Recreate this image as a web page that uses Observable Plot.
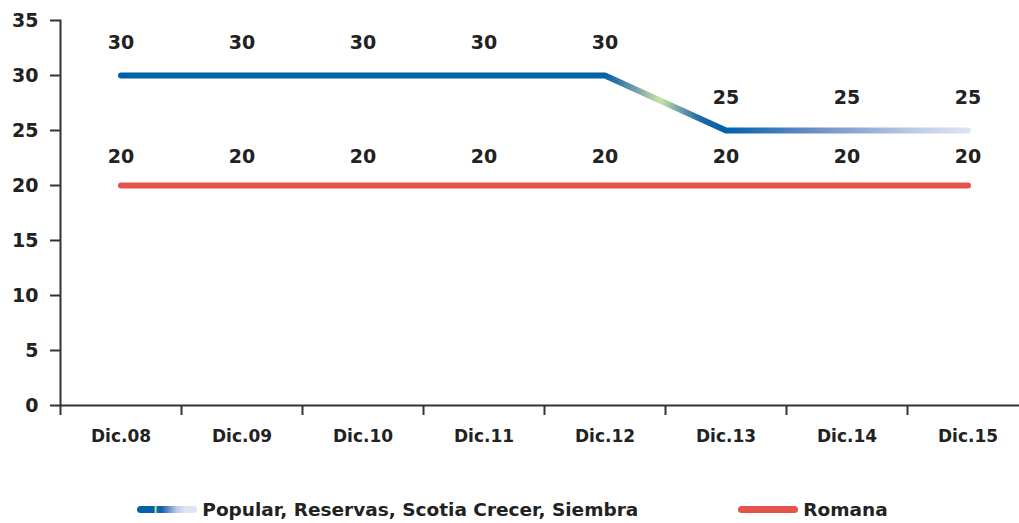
<!DOCTYPE html>
<html>
<head>
<meta charset="utf-8">
<script src="https://cdn.jsdelivr.net/npm/d3@7"></script>
<script src="https://cdn.jsdelivr.net/npm/@observablehq/plot@0.6"></script>
<style>
  body { margin: 0; background: #fff; overflow: hidden; font-family: "DejaVu Sans", sans-serif; }
  #legend { display: flex; justify-content: center; align-items: center; margin-top: 37px; height: 24px;
            font-weight: bold; font-size: 18.5px; color: #222; padding-left: 6px; }
  .item { display: flex; align-items: center; }
  .sw { width: 60px; height: 7px; border-radius: 4px; margin-right: 5px; }
</style>
</head>
<body>
<div id="chart"></div>
<div id="legend"></div>
<script>
const categories = ["Dic.08", "Dic.09", "Dic.10", "Dic.11", "Dic.12", "Dic.13", "Dic.14", "Dic.15"];
const popularValues = [30, 30, 30, 30, 30, 25, 25, 25];
const romanaValues = [20, 20, 20, 20, 20, 20, 20, 20];
const yTicks = [0, 5, 10, 15, 20, 25, 30, 35];
const seriesNames = ["Popular, Reservas, Scotia Crecer, Siembra", "Romana"];

const blue = "#0062a8";
const red = "#e4544a";
const gradStops = [
  [0, "#0062a8"], [0.571, "#0062a8"], [0.585, "#2c74a8"], [0.605, "#6d9bab"],
  [0.637, "#c9e2a2"], [0.66, "#6f9fa8"], [0.685, "#1e68a6"], [0.714, "#0060a8"],
  [0.82, "#6e8fc6"], [0.935, "#bccbe6"], [1, "#dde4f2"]
];

const popular = categories.map((c, i) => ({cat: c, v: popularValues[i]}));
const romana = categories.map((c, i) => ({cat: c, v: romanaValues[i]}));

const W = 1019, ML = 60, MR = -9;
const bw = (W - ML - MR) / categories.length;

function gradientDefs() {
  const defs = d3.create("svg:defs");
  const g = defs.append("linearGradient").attr("id", "popGrad")
    .attr("x1", "0").attr("x2", "1").attr("y1", "0").attr("y2", "0");
  for (const [o, c] of gradStops) g.append("stop").attr("offset", o).attr("stop-color", c);
  return defs.node();
}

const chart = Plot.plot({
  width: W, height: 460,
  marginLeft: ML, marginRight: MR, marginTop: 20, marginBottom: 55,
  style: {fontFamily: "DejaVu Sans", fontWeight: "bold", fontSize: "18px", color: "#222", background: "#fff"},
  x: {type: "band", domain: categories, padding: 0},
  y: {domain: [0, 35]},
  marks: [
    gradientDefs,
    Plot.axisY({ticks: yTicks, tickSize: 10, tickPadding: 12, label: null, fontSize: 19, stroke: "#333", strokeWidth: 2, strokeOpacity: 1}),
    Plot.axisX({tickSize: 10, dx: -bw / 2, tickFormat: () => "", label: null, stroke: "#333", strokeWidth: 2, strokeOpacity: 1}),
    Plot.axisX({tickSize: 0, tickPadding: 24, label: null, fontSize: 17}),
    Plot.ruleY([0], {stroke: "#333", strokeWidth: 2}),
    Plot.frame({anchor: "left", stroke: "#333", strokeWidth: 2}),
    Plot.line(romana, {x: "cat", y: "v", stroke: red, strokeWidth: 6, strokeLinecap: "round"}),
    Plot.line(popular, {x: "cat", y: "v", stroke: "url(#popGrad)", strokeWidth: 6, strokeLinecap: "round", strokeLinejoin: "round"}),
    Plot.text(popular, {x: "cat", y: "v", text: d => String(d.v), dy: -33, fontSize: 19, fill: "#222"}),
    Plot.text(romana, {x: "cat", y: "v", text: d => String(d.v), dy: -29, fontSize: 19, fill: "#222"})
  ]
});
document.getElementById("chart").appendChild(chart);

const legend = document.getElementById("legend");
const swatches = [
  `linear-gradient(to right, ${blue} 0%, ${blue} 28%, #c9e2a2 31%, #1f68a8 34%, ${blue} 40%, #5a80c0 50%, #b8c8e6 65%, #dde4f2 80%, #dde4f2 100%)`,
  red
];
seriesNames.forEach((name, i) => {
  const item = document.createElement("div");
  item.className = "item";
  if (i > 0) item.style.marginLeft = "100px";
  const sw = document.createElement("div");
  sw.className = "sw";
  sw.style.background = swatches[i];
  const t = document.createElement("span");
  t.textContent = name;
  item.appendChild(sw); item.appendChild(t);
  legend.appendChild(item);
});
</script>
</body>
</html>
